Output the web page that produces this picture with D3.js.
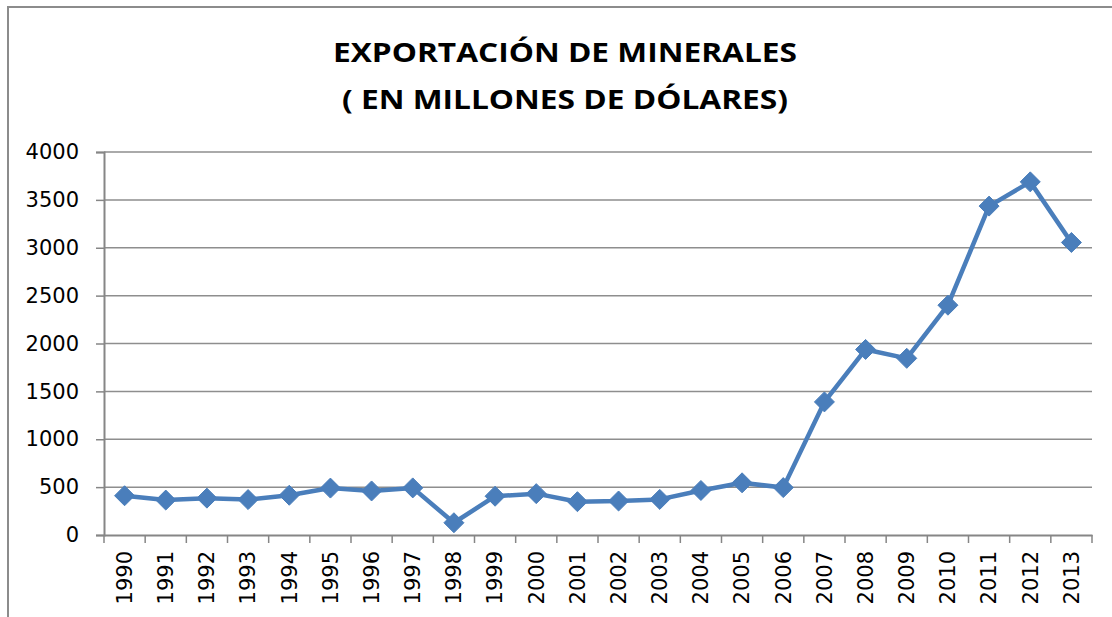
<!DOCTYPE html>
<html>
<head>
<meta charset="utf-8">
<script src="https://cdn.jsdelivr.net/npm/d3@7"></script>
<style>
  html, body { margin: 0; padding: 0; background: #fff; }
  svg { display: block; }
</style>
</head>
<body>
<svg id="chart"></svg>
<script>
const years = ["1990","1991","1992","1993","1994","1995","1996","1997","1998","1999","2000","2001",
  "2002","2003","2004","2005","2006","2007","2008","2009","2010","2011","2012","2013"];
const exports = [410, 365, 385, 370, 415, 490, 460, 492, 128, 405, 432, 348,
  355, 372, 465, 545, 495, 1390, 1938, 1845, 2400, 3435, 3688, 3055];
const yTicks = [0, 500, 1000, 1500, 2000, 2500, 3000, 3500, 4000];
const titleLines = ["EXPORTACIÓN DE MINERALES", "( EN MILLONES DE DÓLARES)"];

const width = 1112, height = 617;
const margin = { top: 152, right: 20, bottom: 82, left: 104 };

const svg = d3.select("#chart").attr("width", width).attr("height", height);

// outer frame (only top and left edges visible)
svg.append("path")
  .attr("d", `M8,${height} V7 H${width}`)
  .attr("fill", "none")
  .attr("stroke", "#8c8c8c")
  .attr("stroke-width", 2);

// Title
svg.append("g")
  .selectAll("text")
  .data(titleLines)
  .enter()
  .append("text")
  .attr("x", 565)
  .attr("y", (d, i) => 62 + i * 47)
  .attr("text-anchor", "middle")
  .attr("font-family", "Open Sans, sans-serif")
  .attr("font-weight", "bold")
  .attr("font-size", "26px")
  .attr("textLength", (d, i) => i === 0 ? 464 : 446)
  .attr("lengthAdjust", "spacingAndGlyphs")
  .attr("fill", "#000")
  .text((d) => d);

// Scales
const x = d3.scaleBand()
  .domain(years)
  .range([margin.left, width - margin.right]);

const y = d3.scaleLinear()
  .domain([0, 4000])
  .range([height - margin.bottom, margin.top]);

// Gridlines
svg.append("g")
  .selectAll("line")
  .data(yTicks.filter((d) => d > 0))
  .enter()
  .append("line")
  .attr("x1", margin.left)
  .attr("x2", width - margin.right)
  .attr("y1", (d) => y(d))
  .attr("y2", (d) => y(d))
  .attr("stroke", "#8e8e8e")
  .attr("stroke-width", 1.5);

// Y axis
const yAxis = svg.append("g")
  .attr("transform", `translate(${margin.left},0)`)
  .call(d3.axisLeft(y).tickValues(yTicks).tickSize(8).tickPadding(17).tickFormat(d3.format("d")));
yAxis.select(".domain").attr("stroke", "#868686").attr("stroke-width", 2);
yAxis.selectAll(".tick line").attr("stroke", "#868686").attr("stroke-width", 1.5);
yAxis.selectAll(".tick text")
  .attr("font-family", "DejaVu Sans, sans-serif")
  .attr("font-size", "21px")
  .attr("fill", "#000");

// X axis
const xAxis = svg.append("g")
  .attr("transform", `translate(0,${y(0)})`)
  .call(d3.axisBottom(x).tickSize(0));
xAxis.select(".domain").attr("stroke", "#868686").attr("stroke-width", 2);
xAxis.selectAll(".tick text")
  .attr("font-family", "DejaVu Sans, sans-serif")
  .attr("font-size", "21px")
  .attr("fill", "#000")
  .attr("text-anchor", "end")
  .attr("transform", "rotate(-90)")
  .attr("x", -16)
  .attr("y", 0)
  .attr("dy", "0.35em");

// category boundary ticks
const edges = years.map((d) => x(d)).concat([x(years[years.length - 1]) + x.bandwidth()]);
svg.append("g")
  .selectAll("line")
  .data(edges)
  .enter()
  .append("line")
  .attr("x1", (d) => d)
  .attr("x2", (d) => d)
  .attr("y1", y(0))
  .attr("y2", y(0) + 8)
  .attr("stroke", "#868686")
  .attr("stroke-width", 1.5);

// Line
const cx = (d, i) => x(years[i]) + x.bandwidth() / 2;
svg.append("path")
  .datum(exports)
  .attr("d", d3.line().x(cx).y((d) => y(d)))
  .attr("fill", "none")
  .attr("stroke", "#4a7ebb")
  .attr("stroke-width", 4.5)
  .attr("stroke-linejoin", "round");

// Diamond markers
svg.append("g")
  .selectAll("path")
  .data(exports)
  .enter()
  .append("path")
  .attr("transform", (d, i) => `translate(${cx(d, i)},${y(d)})`)
  .attr("d", "M0,-10 L10,0 L0,10 L-10,0 Z")
  .attr("fill", "#4a7ebb")
  .attr("stroke", "#4a7ebb")
  .attr("stroke-width", 1);
</script>
</body>
</html>
